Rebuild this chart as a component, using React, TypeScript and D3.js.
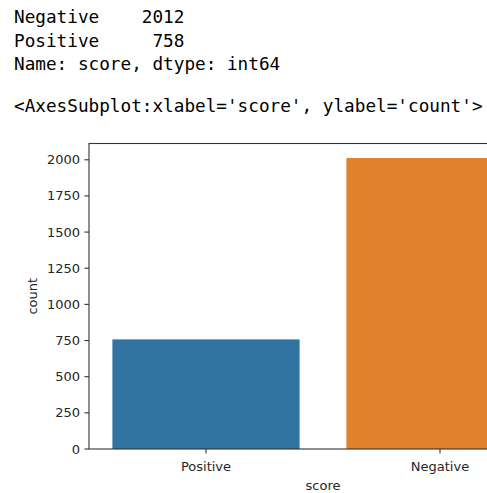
import React from "react";
import * as d3 from "d3";

const categories = ["Positive", "Negative"];
const counts = [758, 2012];
const colors = ["#3274a1", "#e1812c"];
const yTicks = [0, 250, 500, 750, 1000, 1250, 1500, 1750, 2000];
const outputLines = [
  "Negative    2012",
  "Positive     758",
  "Name: score, dtype: int64",
];
const reprLine = "<AxesSubplot:xlabel='score', ylabel='count'>";

export default function App() {
  const W = 487, H = 493;
  const left = 89, right = 557, top = 143.5, bottom = 449;
  const x = d3.scaleLinear().domain([-0.5, 1.5]).range([left, right]);
  const y = d3.scaleLinear().domain([0, d3.max(counts)! * 1.05]).range([bottom, top]);
  const mono = "'DejaVu Sans Mono', 'Liberation Mono', monospace";
  const sans = "'DejaVu Sans', sans-serif";
  const txt = "#262626";
  return (
    <svg width={W} height={H} style={{ position: "absolute", left: 0, top: 0, background: "#fff" }}>
      <g fontFamily={mono} fontSize={17.7} fill="#000">
        {outputLines.map((l, i) => (
          <text key={i} x={14} y={23 + i * 23.5} xmlSpace="preserve" style={{ whiteSpace: "pre" }}>{l}</text>
        ))}
        <text x={14} y={112} style={{ whiteSpace: "pre" }}>{reprLine}</text>
      </g>
      {categories.map((c, i) => (
        <rect key={c} x={x(i - 0.4)} width={x(i + 0.4) - x(i - 0.4)} y={y(counts[i])} height={bottom - y(counts[i])} fill={colors[i]} />
      ))}
      <rect x={left} y={top} width={right - left} height={bottom - top} fill="none" stroke="#333" strokeWidth={1.1} />
      <g fontFamily={sans} fontSize={13} fill={txt}>
        {yTicks.map((t) => (
          <g key={t}>
            <line x1={left - 4.6} x2={left} y1={y(t)} y2={y(t)} stroke="#333" strokeWidth={1.1} />
            <text x={left - 9} y={y(t)} dy="0.35em" textAnchor="end">{t}</text>
          </g>
        ))}
        {categories.map((c, i) => (
          <g key={c}>
            <line x1={x(i)} x2={x(i)} y1={bottom} y2={bottom + 4.6} stroke="#333" strokeWidth={1.1} />
            <text x={x(i)} y={471} textAnchor="middle">{c}</text>
          </g>
        ))}
        <text x={(left + right) / 2} y={490} textAnchor="middle">score</text>
        <text transform={`translate(37,${(top + bottom) / 2}) rotate(-90)`} textAnchor="middle">count</text>
      </g>
    </svg>
  );
}
